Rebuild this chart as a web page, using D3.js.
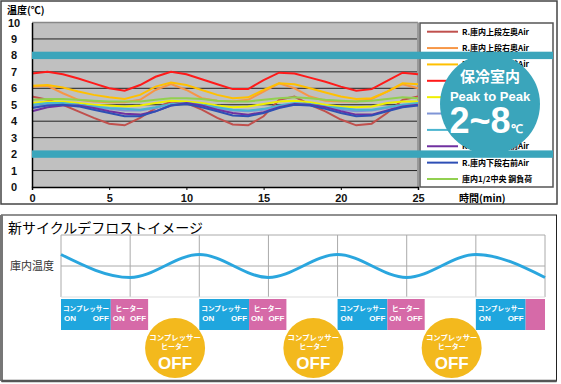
<!DOCTYPE html>
<html>
<head>
<meta charset="utf-8">
<script src="https://cdn.jsdelivr.net/npm/d3@7"></script>
<style>
  body { margin: 0; background: #fff; }
  svg { display: block; }
  .num { font-family: "Liberation Sans", Arial, sans-serif; font-weight: bold; }
  .jp { font-family: "Noto Sans CJK JP", sans-serif; }
</style>
</head>
<body>
<script>
// Time axis (minutes) for the measured temperatures
var minutes = d3.range(0, 26);

// Series names and colours, in legend order
var seriesNames = ["R.庫内上段左奥Air", "R.庫内上段右奥Air", "R.庫内上段左前Air", "R.庫内上段右前Air",
  "R.庫内中段左奥Air", "R.庫内中段右奥Air", "R.庫内中段左前Air", "R.庫内下段左前Air",
  "R.庫内下段右前Air", "庫内1/2中央 鋼負荷"];
var seriesColors = ["#c0504d", "#f79646", "#ffc000", "#ff1a1a", "#f0f000", "#7f95d6",
  "#4bb5d0", "#7030a0", "#2e4fb5", "#92d050"];

// Temperature readings (°C), one value per minute
var upLeftBack   = [5.5, 5.3, 5.0, 4.6, 4.2, 3.85, 3.75, 4.2, 4.8, 5.2, 5.1, 4.7, 4.2, 3.8, 3.75, 4.3, 5.3, 5.5, 5.0, 4.6, 4.1, 3.75, 3.85, 4.5, 5.3, 5.5];
var upRightBack  = [6.1, 6.15, 5.7, 5.3, 5.2, 5.15, 5.15, 5.3, 5.9, 6.25, 5.9, 5.4, 5.25, 5.2, 5.3, 5.8, 6.3, 6.0, 5.5, 5.25, 5.2, 5.2, 5.35, 5.8, 6.25, 6.0];
var upLeftFront  = [6.15, 6.2, 6.05, 5.8, 5.6, 5.45, 5.35, 5.6, 6.1, 6.35, 6.2, 5.9, 5.6, 5.4, 5.45, 5.9, 6.3, 6.25, 6.0, 5.75, 5.5, 5.35, 5.4, 5.8, 6.3, 6.25];
var upRightFront = [6.9, 7.0, 6.85, 6.6, 6.3, 6.0, 5.85, 6.2, 6.7, 7.0, 6.85, 6.55, 6.25, 5.95, 5.95, 6.5, 6.95, 6.9, 6.65, 6.4, 6.1, 5.85, 5.95, 6.45, 6.95, 6.85];
var midLeftBack  = [5.1, 5.2, 5.2, 5.1, 5.0, 4.95, 4.9, 4.95, 5.1, 5.25, 5.2, 5.1, 4.95, 4.85, 4.9, 5.05, 5.2, 5.25, 5.15, 5.0, 4.9, 4.85, 4.9, 5.1, 5.2, 5.2];
var midRightBack = [4.9, 5.0, 5.05, 5.0, 4.85, 4.75, 4.65, 4.65, 4.8, 5.0, 5.05, 4.95, 4.8, 4.65, 4.6, 4.7, 4.9, 5.05, 5.0, 4.85, 4.7, 4.6, 4.65, 4.8, 4.95, 5.05];
var midLeftFront = [5.0, 5.1, 5.1, 5.0, 4.9, 4.8, 4.75, 4.7, 4.85, 5.05, 5.1, 5.0, 4.85, 4.7, 4.65, 4.75, 4.95, 5.1, 5.05, 4.9, 4.8, 4.7, 4.7, 4.85, 5.0, 5.1];
var lowLeftFront = [4.6, 4.85, 4.95, 4.95, 4.8, 4.6, 4.45, 4.4, 4.6, 4.95, 5.1, 4.95, 4.7, 4.5, 4.4, 4.55, 4.85, 5.05, 5.0, 4.85, 4.6, 4.4, 4.4, 4.65, 4.9, 5.0];
var lowRightFront = [4.8, 4.95, 5.0, 4.9, 4.7, 4.5, 4.3, 4.3, 4.6, 4.95, 5.05, 4.85, 4.6, 4.35, 4.3, 4.5, 4.8, 5.0, 4.95, 4.75, 4.5, 4.3, 4.35, 4.6, 4.85, 4.95];
var centreLoad   = [5.3, 5.35, 5.35, 5.3, 5.25, 5.2, 5.2, 5.2, 5.3, 5.4, 5.4, 5.35, 5.25, 5.2, 5.2, 5.3, 5.4, 5.45, 5.4, 5.3, 5.25, 5.2, 5.25, 5.35, 5.45, 5.4];
var seriesValues = [upLeftBack, upRightBack, upLeftFront, upRightFront, midLeftBack,
  midRightBack, midLeftFront, lowLeftFront, lowRightFront, centreLoad];

// Tick labels and the 2~8 target band
var yTicks = [0, 1, 2, 3, 4, 5, 6, 7, 8, 9, 10];
var xTicks = [0, 5, 10, 15, 20, 25];
var bandLevels = [2, 8];

// Defrost-cycle image: wave extremes at each grid column
var waveSteps = [0, 1, 2, 3, 4, 5, 6, 7];
var waveLevels = [1, -1, 1, -1, 1, -1, 1, -1];
var compressorStarts = [0, 2, 4, 6];
var offCentres = [1.65, 3.65, 5.65];

var teal = "#3aa5bb";

var svg = d3.select("body").append("svg")
    .attr("width", 561)
    .attr("height", 384);

// ---------- top chart ----------
svg.append("rect")
    .attr("x", 1).attr("y", 1).attr("width", 556).attr("height", 203)
    .attr("fill", "#fff").attr("stroke", "#444").attr("stroke-width", 1.5);

var x = d3.scaleLinear().domain([0, 25]).range([32, 418]);
var y = d3.scaleLinear().domain([0, 10]).range([187, 22.5]);

svg.append("rect")
    .attr("x", x(0)).attr("y", y(10))
    .attr("width", x(25) - x(0)).attr("height", y(0) - y(10))
    .attr("fill", "#c0c0c0");

// Horizontal grid
svg.append("g")
    .selectAll("line")
    .data(yTicks.filter(function(d) { return d > 0 && d < 10; }))
    .enter().append("line")
    .attr("x1", x(0)).attr("x2", x(25))
    .attr("y1", function(d) { return y(d); })
    .attr("y2", function(d) { return y(d); })
    .attr("stroke", "#222").attr("stroke-width", 1);

// Plot frame: grey top/right, black left/bottom
svg.append("line").attr("x1", x(0)).attr("x2", x(25)).attr("y1", y(10)).attr("y2", y(10))
    .attr("stroke", "#888").attr("stroke-width", 1.5);
svg.append("line").attr("x1", x(25)).attr("x2", x(25)).attr("y1", y(10)).attr("y2", y(0))
    .attr("stroke", "#999").attr("stroke-width", 2);

// Temperature lines
var line = d3.line()
    .x(function(d, i) { return x(minutes[i]); })
    .y(function(d) { return y(d); });

svg.append("g")
    .selectAll("path")
    .data(seriesValues)
    .enter().append("path")
    .attr("d", line)
    .attr("fill", "none")
    .attr("stroke", function(d, i) { return seriesColors[i]; })
    .attr("stroke-width", 2);

// Axes
var yAxis = svg.append("g")
    .attr("transform", "translate(" + x(0) + ",0)")
    .call(d3.axisLeft(y).tickValues(yTicks).tickSize(0).tickFormat(d3.format("d")));
yAxis.select(".domain").attr("stroke", "#000").attr("stroke-width", 1.5);
yAxis.selectAll("text")
    .attr("class", "num")
    .attr("x", -18)
    .style("text-anchor", "middle")
    .style("font-size", "11px")
    .attr("fill", "#111");

var xAxis = svg.append("g")
    .attr("transform", "translate(0," + y(0) + ")")
    .call(d3.axisBottom(x).tickValues(xTicks).tickSize(3).tickPadding(4).tickFormat(d3.format("d")));
xAxis.select(".domain").attr("stroke", "#000").attr("stroke-width", 1.5);
xAxis.selectAll("text")
    .attr("class", "num")
    .style("font-size", "11px")
    .attr("fill", "#111");

svg.append("text")
    .attr("class", "jp")
    .attr("x", 7).attr("y", 14)
    .style("font-size", "10px").style("font-weight", "bold")
    .text("温度(℃)");

svg.append("text")
    .attr("class", "jp")
    .attr("x", 459).attr("y", 202)
    .style("font-size", "10px").style("font-weight", "bold")
    .text("時間(min)");

// Legend (entries under the circle stay hidden, as in the original)
var legend = svg.append("g");
legend.append("rect")
    .attr("x", 420).attr("y", 23).attr("width", 133).attr("height", 164)
    .attr("fill", "#fff").attr("stroke", "#555").attr("stroke-width", 1.5);

var legendRow = d3.scaleLinear().domain([0, 9]).range([31.7, 179]);
var entries = legend.selectAll("g.entry")
    .data(seriesNames)
    .enter().append("g")
    .attr("class", "entry")
    .attr("transform", function(d, i) { return "translate(0," + legendRow(i) + ")"; });
entries.append("line")
    .attr("x1", 427).attr("x2", 458)
    .attr("stroke", function(d, i) { return seriesColors[i]; })
    .attr("stroke-width", 2);
entries.append("text")
    .attr("class", "jp")
    .attr("x", 462).attr("y", 3)
    .style("font-size", "8px").style("font-weight", "bold")
    .text(function(d) { return d; });

// Target circle
svg.append("circle")
    .attr("cx", 490).attr("cy", 104).attr("r", 50)
    .attr("fill", teal);
svg.append("text")
    .attr("class", "jp")
    .attr("x", 490).attr("y", 82)
    .attr("text-anchor", "middle").attr("fill", "#fff")
    .style("font-size", "15px").style("font-weight", "bold")
    .text("保冷室内");
svg.append("text")
    .attr("class", "num")
    .attr("x", 490).attr("y", 101)
    .attr("text-anchor", "middle").attr("fill", "#fff")
    .style("font-size", "13px")
    .text("Peak to Peak");
var big = svg.append("text")
    .attr("class", "num")
    .attr("x", 486).attr("y", 133)
    .attr("text-anchor", "middle").attr("fill", "#fff")
    .style("font-size", "36px");
big.append("tspan").text("2~8");
big.append("tspan").style("font-size", "12px").text("℃");

// Bands at 2 and 8 °C
svg.append("g")
    .selectAll("rect")
    .data(bandLevels)
    .enter().append("rect")
    .attr("x", x(0))
    .attr("y", function(d) { return y(d) - 3.7; })
    .attr("width", 553 - x(0))
    .attr("height", 7.4)
    .attr("fill", teal);

// ---------- bottom defrost image ----------
svg.append("rect")
    .attr("x", 1.5).attr("y", 215).attr("width", 555).attr("height", 166)
    .attr("fill", "#fff").attr("stroke", "#222").attr("stroke-width", 1);
svg.append("line").attr("x1", 1.5).attr("x2", 1.5).attr("y1", 215).attr("y2", 381)
    .attr("stroke", "#777").attr("stroke-width", 3);
svg.append("line").attr("x1", 1.5).attr("x2", 556.5).attr("y1", 381).attr("y2", 381)
    .attr("stroke", "#555").attr("stroke-width", 2.5);

svg.append("text")
    .attr("class", "jp")
    .attr("x", 8).attr("y", 233)
    .style("font-size", "14px")
    .text("新サイクルデフロストイメージ");

var wx = d3.scaleLinear().domain([0, 7]).range([61, 545]);
var wy = d3.scaleLinear().domain([-2.7, 2.7]).range([297, 235]);

var grid = svg.append("g");
grid.selectAll("line.v")
    .data(waveSteps)
    .enter().append("line")
    .attr("class", "v")
    .attr("x1", function(d) { return wx(d); })
    .attr("x2", function(d) { return wx(d); })
    .attr("y1", wy(2.7)).attr("y2", wy(-2.7))
    .attr("stroke", "#aaa").attr("stroke-width", 1);
grid.selectAll("line.h")
    .data([2.7, 0, -2.7])
    .enter().append("line")
    .attr("class", "h")
    .attr("x1", wx(0)).attr("x2", wx(7))
    .attr("y1", function(d) { return wy(d); })
    .attr("y2", function(d) { return wy(d); })
    .attr("stroke", function(d) { return d === -2.7 ? "#ddd" : "#aaa"; })
    .attr("stroke-width", 1);

var wave = d3.line()
    .x(function(d, i) { return wx(waveSteps[i]); })
    .y(function(d) { return wy(d); })
    .curve(d3.curveMonotoneX);

svg.append("path")
    .attr("d", wave(waveLevels))
    .attr("fill", "none")
    .attr("stroke", "#2aa6de")
    .attr("stroke-width", 3);

svg.append("text")
    .attr("class", "jp")
    .attr("x", 10).attr("y", 270)
    .style("font-size", "11px")
    .attr("fill", "#333")
    .text("庫内温度");

// Compressor / heater boxes
var compW = 0.72, heatW = 0.54;
var boxes = svg.append("g")
    .selectAll("g")
    .data(compressorStarts)
    .enter().append("g");

boxes.append("rect")
    .attr("x", function(d) { return wx(d); })
    .attr("y", 299)
    .attr("width", wx(compW) - wx(0))
    .attr("height", 31)
    .attr("fill", "#1fa6de");
boxes.append("rect")
    .attr("x", function(d) { return wx(d + compW); })
    .attr("y", 299)
    .attr("width", function(d) { return wx(Math.min(d + compW + heatW, 7)) - wx(d + compW); })
    .attr("height", 31)
    .attr("fill", "#d66aa8");

boxes.append("text")
    .attr("class", "jp")
    .attr("x", function(d) { return wx(d) + 25; })
    .attr("y", 311)
    .attr("text-anchor", "middle").attr("fill", "#fff")
    .style("font-size", "6.6px").style("font-weight", "bold")
    .text("コンプレッサー");
boxes.append("text")
    .attr("class", "num")
    .attr("x", function(d) { return wx(d) + 3; })
    .attr("y", 321)
    .attr("fill", "#fff").style("font-size", "8px")
    .text("ON");
boxes.append("text")
    .attr("class", "num")
    .attr("x", function(d) { return wx(d + compW) - 2; })
    .attr("y", 321)
    .attr("text-anchor", "end")
    .attr("fill", "#fff").style("font-size", "8px")
    .text("OFF");

// Heater labels only where the box is whole
var heaterBoxes = boxes.filter(function(d) { return d + compW + heatW <= 7; });
heaterBoxes.append("text")
    .attr("class", "jp")
    .attr("x", function(d) { return wx(d + compW) + 18.5; })
    .attr("y", 311)
    .attr("text-anchor", "middle").attr("fill", "#fff")
    .style("font-size", "7px").style("font-weight", "bold")
    .text("ヒーター");
heaterBoxes.append("text")
    .attr("class", "num")
    .attr("x", function(d) { return wx(d + compW) + 2; })
    .attr("y", 321)
    .attr("fill", "#fff").style("font-size", "8px")
    .text("ON");
heaterBoxes.append("text")
    .attr("class", "num")
    .attr("x", function(d) { return wx(d + compW + heatW) - 2; })
    .attr("y", 321)
    .attr("text-anchor", "end")
    .attr("fill", "#fff").style("font-size", "8px")
    .text("OFF");

// OFF circles
var offs = svg.append("g")
    .selectAll("g")
    .data(offCentres)
    .enter().append("g")
    .attr("transform", function(d) { return "translate(" + wx(d) + ",348)"; });
offs.append("circle").attr("r", 30).attr("fill", "#f3b91d");
offs.append("text")
    .attr("class", "jp")
    .attr("y", -8)
    .attr("text-anchor", "middle").attr("fill", "#fff")
    .style("font-size", "7.4px").style("font-weight", "bold")
    .text("コンプレッサー");
offs.append("text")
    .attr("class", "jp")
    .attr("y", 1)
    .attr("text-anchor", "middle").attr("fill", "#fff")
    .style("font-size", "7px").style("font-weight", "bold")
    .text("ヒーター");
offs.append("text")
    .attr("class", "num")
    .attr("y", 21)
    .attr("text-anchor", "middle").attr("fill", "#fff")
    .style("font-size", "17px")
    .text("OFF");
</script>
</body>
</html>
